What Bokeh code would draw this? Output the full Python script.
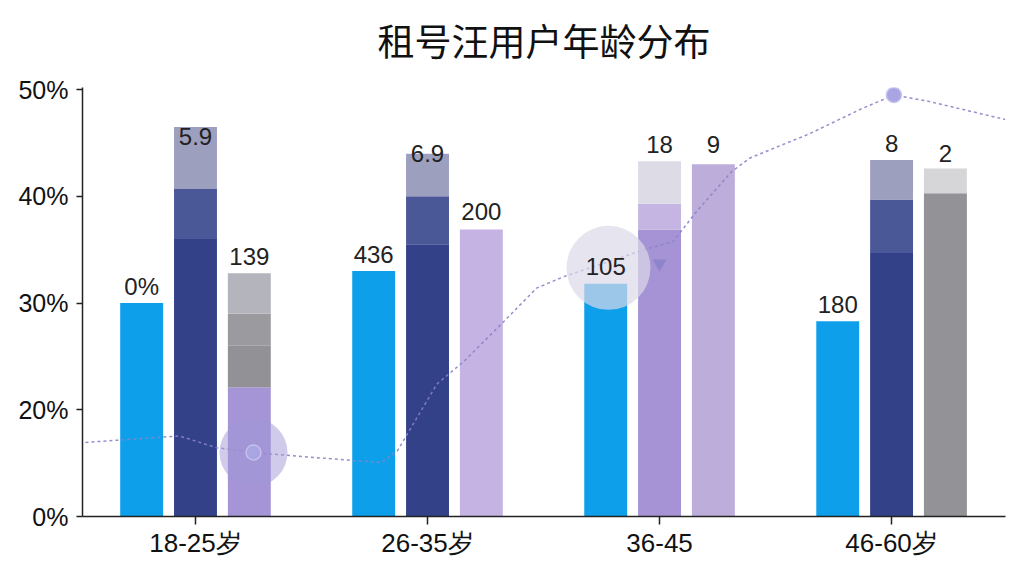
from bokeh.core.properties import value
from bokeh.embed import file_html
from bokeh.models import FixedTicker, Range1d
from bokeh.plotting import figure
from bokeh.resources import INLINE


# --- data ---
TITLE = "租号汪用户年龄分布"
CATEGORIES = ["18-25岁", "26-35岁", "36-45", "46-60岁"]

Y_TICKS = [0, 20, 30, 40, 50]           # axis is broken: 0-20 takes the same room as 10
Y_TICK_LABELS = ["0%", "20%", "30%", "40%", "50%"]

BLUE_VALUES = [30.0, 33.0, 31.8, 28.3]
BLUE_LABELS = ["0%", "436", "105", "180"]

# stacked segments: cumulative top of each segment (percent)
MID_STACKS = [
    [36.0, 40.7, 46.5],
    [35.5, 40.0, 44.0],
    [36.9, 39.3, 43.3],
    [34.7, 39.7, 43.4],
]
MID_LABELS = ["5.9", "6.9", "18", "8"]

RIGHT_STACKS = [
    [22.1, 26.0, 29.0, 32.8],
    [36.9],
    [43.0],
    [40.3, 42.6],
]
RIGHT_LABELS = ["139", "200", "9", "2"]

# dotted trend line (x in category units, y in percent)
LINE_X = [0.0, 0.43, 0.59, 0.74, 1.09, 1.30, 1.37, 1.54, 1.66, 1.83, 1.97,
          2.09, 2.42, 2.56, 2.66, 2.81, 2.89, 3.14, 3.37, 3.51, 3.66, 3.99]
LINE_Y = [13.8, 15.1, 12.9, 12.0, 10.8, 10.1, 12.3, 22.4, 24.6, 28.3, 31.4,
          32.5, 34.9, 35.8, 38.6, 42.3, 43.6, 45.8, 48.2, 49.5, 48.9, 47.2]

HALO_X = [0.75, 2.28]
HALO_Y = [12.0, 33.3]
TRIANGLE_X = [2.50]
TRIANGLE_Y = [33.7]
PEAK_X = [0.75, 3.51]
PEAK_Y = [12.0, 49.5]

# --- styles ---
BLUE = "#0d9fea"
MID_COLORS = [
    ["#334189", "#4b5897", "#9d9fbf"],
    ["#334189", "#4b5897", "#9d9fbf"],
    ["#a593d5", "#c5b5e2", "#dddbe6"],
    ["#334189", "#4b5897", "#9d9fbf"],
]
RIGHT_COLORS = [
    ["#a594d6", "#929296", "#9b9b9f", "#b4b4bd"],
    ["#c4b3e3"],
    ["#bcaddb"],
    ["#929297", "#d6d6d9"],
]
BLUE_LABEL_SHIFT = [-17, -17, -17, -17]
MID_LABEL_SHIFT = [10, 0, -17, -17]
RIGHT_LABEL_SHIFT = [-17, -18, -20, -15]

BAR_W = 0.185
OFFSET = 0.232
NUM_FONT = "Liberation Sans"
Y_TOP = 4.02
SHIFT_UP = 10   # title panel is taller than the room above the frame


def level(v: float) -> float:
    """Map a percent value onto the broken axis."""
    if v <= 20:
        return v / 20
    return 1 + (v - 20) / 10


def levels(values: list[float]) -> list[float]:
    return [level(v) for v in values]


p = figure(
    width=1008,
    height=560 + SHIFT_UP,
    x_range=Range1d(0.013, 3.991),
    y_range=Range1d(0, Y_TOP),
    output_backend="svg",
    toolbar_location=None,
    min_border_left=82,
    min_border_right=3,
    min_border_top=0,
    min_border_bottom=44,
)
p.styles = {"margin-top": f"-{SHIFT_UP}px"}

p.title.text = TITLE
p.title.align = "center"
p.title.text_font = "Noto Sans CJK SC"
p.title.text_font_size = "37px"
p.title.text_font_style = "normal"
p.title.text_color = "#111111"
p.title.standoff = 41

p.outline_line_color = None
p.xgrid.grid_line_color = None
p.ygrid.grid_line_color = None
p.background_fill_color = "white"
p.border_fill_color = "white"

centers = [i + 0.5 for i in range(len(CATEGORIES))]

# blue bars
blue_x = [c - OFFSET for c in centers]
p.vbar(x=blue_x, top=levels(BLUE_VALUES), bottom=0, width=BAR_W,
       fill_color=BLUE, line_color=None)

# stacked middle and right bars
for shift, stacks, colors in ((0.0, MID_STACKS, MID_COLORS), (OFFSET, RIGHT_STACKS, RIGHT_COLORS)):
    xs, bottoms, tops, fills = [], [], [], []
    for c, stack, cols in zip(centers, stacks, colors):
        prev = 0.0
        for top, col in zip(stack, cols):
            xs.append(c + shift)
            bottoms.append(level(prev))
            tops.append(level(top))
            fills.append(col)
            prev = top
    p.vbar(x=xs, top=tops, bottom=bottoms, width=BAR_W,
           fill_color=fills, line_color=None)

# trend line and markers
p.line(LINE_X, levels(LINE_Y), line_color="#8a82c8", line_width=1.5,
       line_dash="3 3", line_alpha=0.9)
p.scatter(HALO_X[:1], levels(HALO_Y[:1]), size=68, marker="circle",
          fill_color="#a197d8", fill_alpha=0.5, line_color=None)
p.scatter(HALO_X[1:], levels(HALO_Y[1:]), size=84, marker="circle",
          fill_color="#dcd8e8", fill_alpha=0.7, line_color=None)
p.scatter(TRIANGLE_X, levels(TRIANGLE_Y), size=14, marker="inverted_triangle",
          fill_color="#8e84cc", line_color=None)
p.scatter(PEAK_X, levels(PEAK_Y), size=15, marker="circle",
          fill_color="#a9a5e2", line_color="#c4c0ee", line_width=1.5)

# value labels
label_sets = (
    (blue_x, BLUE_VALUES, BLUE_LABELS, BLUE_LABEL_SHIFT),
    (centers, [s[-1] for s in MID_STACKS], MID_LABELS, MID_LABEL_SHIFT),
    ([c + OFFSET for c in centers], [s[-1] for s in RIGHT_STACKS], RIGHT_LABELS, RIGHT_LABEL_SHIFT),
)
for xs, tops, texts, shifts in label_sets:
    for x, top, txt, dy in zip(xs, tops, texts, shifts):
        p.text(x=[x], y=[level(top)], text=[txt], y_offset=dy,
               text_align="center", text_baseline="middle",
               text_font=value(NUM_FONT), text_font_size="24px",
               text_color="#222222")

# axes
p.yaxis.ticker = FixedTicker(ticks=levels(Y_TICKS))
p.yaxis.major_label_overrides = {level(t): lab for t, lab in zip(Y_TICKS, Y_TICK_LABELS)}
p.xaxis.ticker = FixedTicker(ticks=centers)
p.xaxis.major_label_overrides = {c: lab for c, lab in zip(centers, CATEGORIES)}

for ax in (p.xaxis, p.yaxis):
    ax.axis_line_color = "#222222"
    ax.axis_line_width = 1.5
    ax.major_tick_line_color = "#222222"
    ax.major_tick_line_width = 1.5
    ax.major_tick_in = 0
    ax.minor_tick_line_color = None
    ax.major_label_text_color = "#111111"
    ax.major_label_text_font = NUM_FONT

p.yaxis.major_tick_out = 6
p.yaxis.major_label_text_font_size = "25px"
p.yaxis.major_label_standoff = 8
p.xaxis.major_tick_out = 8
p.xaxis.major_label_text_font_size = "26px"
p.xaxis.major_label_standoff = 3

with open("out.html", "w") as f:
    f.write(file_html(p, INLINE))
